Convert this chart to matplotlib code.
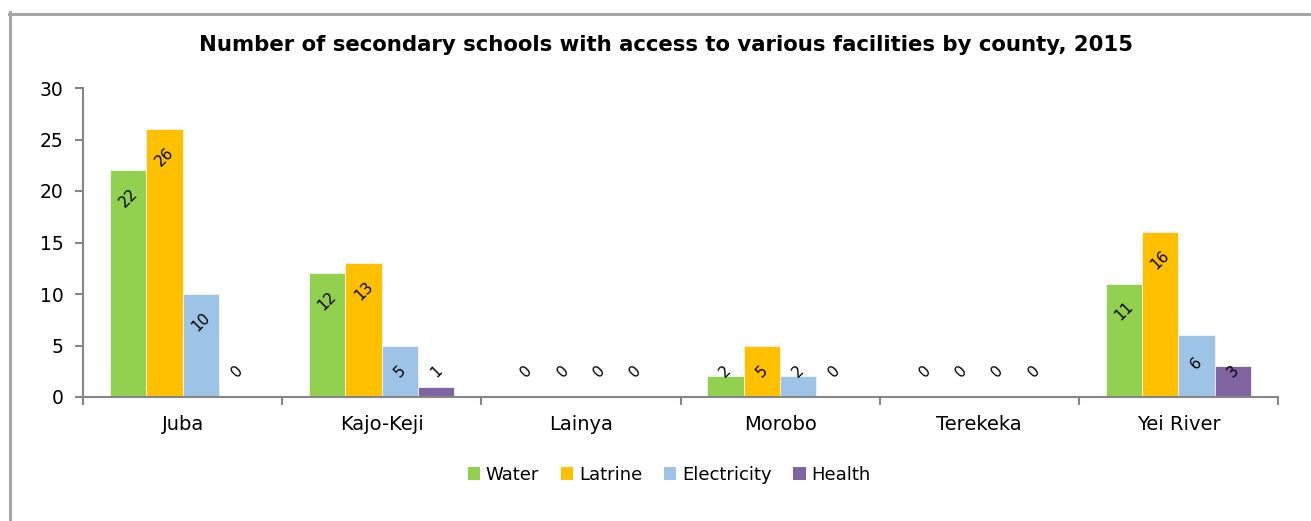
import matplotlib
matplotlib.use("Agg")
import matplotlib.pyplot as plt
from matplotlib.lines import Line2D
import numpy as np

# Data
counties = ["Juba", "Kajo-Keji", "Lainya", "Morobo", "Terekeka", "Yei River"]
water = [22, 12, 0, 2, 0, 11]
latrine = [26, 13, 0, 5, 0, 16]
electricity = [10, 5, 0, 2, 0, 6]
health = [0, 1, 0, 0, 0, 3]
series_names = ["Water", "Latrine", "Electricity", "Health"]
series_values = [water, latrine, electricity, health]
series_colors = ["#92D050", "#FFC000", "#9DC3E6", "#8064A2"]
y_ticks = [0, 5, 10, 15, 20, 25, 30]
title = "Number of secondary schools with access to various facilities by county, 2015"

W, H = 1311, 521
fig = plt.figure(figsize=(W / 100, H / 100), dpi=100)
plt.rcParams["font.family"] = ["DejaVu Sans"]

ax = fig.add_axes([83 / W, (H - 397) / H, (1278 - 83) / W, (397 - 88) / H])

x = np.arange(len(counties))
bw = 0.1825
offsets = (np.arange(4) - 1.5) * bw
axis_gray = "#868686"

for vals, name, col, off in zip(series_values, series_names, series_colors, offsets):
    ax.bar(x + off, vals, width=bw, color=col, edgecolor="#f4f4f4",
           linewidth=0.6, label=name, zorder=2)
    for xi, v in zip(x, vals):
        ypos = max(v - 2.7, 2.5)
        ax.text(xi + off, ypos, f"{v}", rotation=45, ha="center", va="center",
                fontsize=11, color="black", zorder=3)

ax.set_xlim(-0.5, len(counties) - 0.5)
ax.set_ylim(0, 30)
ax.set_yticks(y_ticks)
ax.set_yticklabels([str(t) for t in y_ticks], fontsize=13.5)
ax.set_xticks(x)
ax.set_xticklabels(counties, fontsize=14)
ax.set_xticks(np.arange(len(counties) + 1) - 0.5, minor=True)

ax.tick_params(axis="x", which="major", length=0, pad=13)
ax.tick_params(axis="x", which="minor", length=6, width=1.5, color=axis_gray, direction="out")
ax.tick_params(axis="y", which="major", length=6, width=1.5, color=axis_gray, direction="out", pad=8)

for side in ["top", "right"]:
    ax.spines[side].set_visible(False)
for side in ["left", "bottom"]:
    ax.spines[side].set_color(axis_gray)
    ax.spines[side].set_linewidth(1.5)

fig.text(666 / W, 1 - 45 / H, title, ha="center", va="center",
         fontsize=15.3, fontweight="bold")

leg = fig.legend(loc="center", bbox_to_anchor=(669 / W, 1 - 475 / H), ncol=4,
                 frameon=False, fontsize=13, handlelength=0.7, handleheight=0.7,
                 handletextpad=0.3, columnspacing=1.2)
for h in leg.legend_handles:
    h.set_edgecolor("none")

# Outer chart border (left and top edges visible)
frame_gray = "#a6a6a6"
fig.add_artist(Line2D([9.5 / W, 9.5 / W], [0, 1 - 12 / H], transform=fig.transFigure,
                      color=frame_gray, linewidth=2.2))
fig.add_artist(Line2D([8.5 / W, 1], [1 - 13.5 / H, 1 - 13.5 / H], transform=fig.transFigure,
                      color=frame_gray, linewidth=2.2))

fig.savefig("out.png", dpi=100)
